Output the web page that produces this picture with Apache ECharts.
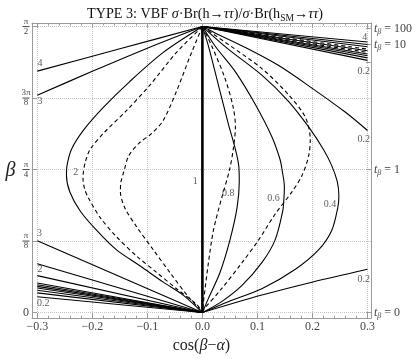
<!DOCTYPE html>
<html>
<head>
<meta charset="utf-8">
<script src="https://cdn.jsdelivr.net/npm/echarts@6/dist/echarts.min.js"></script>
<style>
html, body { margin: 0; padding: 0; background: #fff; }
#chart { width: 415px; height: 359px; }
</style>
</head>
<body>
<div id="chart"></div>
<script>
// x = cos(beta - alpha), y = beta (radians)
const xTicks = [-0.3, -0.2, -0.1, 0, 0.1, 0.2, 0.3]
const betaTicks = [0, Math.PI / 8, Math.PI / 4, 3 * Math.PI / 8, Math.PI / 2]
const betaTickLabels = ['0', 'π/8', 'π/4', '3π/8', 'π/2']
const tanBetaTicks = [0, 1, 5, 10, 100]
const tanBetaLabels = ['0', '1', '', '10', '100']

// contours, [cos(beta-alpha), beta]
const line1 = [[0, 0], [0, 1.571]]
const upperLeft4 = [[-0.3, 1.326], [-0.15, 1.449], [0, 1.571]]
const upperLeft3 = [[-0.3, 1.194], [-0.2, 1.325], [-0.1, 1.452], [0, 1.571]]
const curve2 = [[0, 1.571], [-0.071, 1.429], [-0.132, 1.269], [-0.180, 1.127], [-0.216, 1.002], [-0.238, 0.896],
  [-0.246, 0.807], [-0.247, 0.753], [-0.241, 0.664], [-0.222, 0.558], [-0.192, 0.451], [-0.156, 0.344],
  [-0.113, 0.256], [-0.071, 0.167], [-0.035, 0.096], [0, 0]]
const dashOuterLeft = [[0, 1.571], [-0.047, 1.429], [-0.095, 1.251], [-0.138, 1.109], [-0.180, 0.984], [-0.204, 0.896],
  [-0.213, 0.824], [-0.217, 0.740], [-0.214, 0.680], [-0.207, 0.629], [-0.186, 0.523], [-0.156, 0.416],
  [-0.119, 0.309], [-0.083, 0.220], [-0.047, 0.131], [-0.010, 0.043], [0, 0]]
const dashInnerLeft = [[0, 1.571], [-0.022, 1.411], [-0.047, 1.216], [-0.071, 1.056], [-0.092, 0.984], [-0.115, 0.931],
  [-0.134, 0.860], [-0.143, 0.771], [-0.148, 0.718], [-0.149, 0.664], [-0.141, 0.576], [-0.119, 0.469],
  [-0.089, 0.344], [-0.059, 0.220], [-0.028, 0.096], [-0.007, 0.025], [0, 0]]
const lowerLeftStarts = [0.395, 0.268, 0.203, 0.162, 0.153, 0.144, 0.135, 0.123, 0.108, 0.087]

const curve08 = [[0, 1.571], [0.011, 1.464], [0.029, 1.251], [0.047, 1.038], [0.060, 0.896], [0.066, 0.807],
  [0.067, 0.718], [0.063, 0.576], [0.050, 0.398], [0.032, 0.220], [0.011, 0.078], [0, 0]]
const dashInnerRight = [[0, 1.571], [0.017, 1.464], [0.041, 1.287], [0.056, 1.127], [0.060, 1.020], [0.056, 0.896],
  [0.049, 0.780], [0.035, 0.629], [0.020, 0.451], [0.011, 0.274], [0.002, 0.060], [0, 0]]
const curve06 = [[0, 1.571], [0.023, 1.464], [0.060, 1.322], [0.096, 1.144], [0.126, 0.967], [0.141, 0.842],
  [0.145, 0.780], [0.149, 0.690], [0.148, 0.620], [0.146, 0.558], [0.132, 0.398], [0.108, 0.274],
  [0.072, 0.149], [0.035, 0.060], [0, 0]]
const dashOuterRight = [[0, 1.571], [0.047, 1.473], [0.108, 1.340], [0.156, 1.198], [0.187, 1.073], [0.196, 0.949],
  [0.193, 0.860], [0.181, 0.753], [0.163, 0.664], [0.132, 0.540], [0.102, 0.398], [0.072, 0.274],
  [0.035, 0.131], [0.002, 0.016], [0, 0]]
const curve04 = [[0, 1.571], [0.047, 1.447], [0.108, 1.304], [0.156, 1.162], [0.193, 1.020], [0.220, 0.896],
  [0.235, 0.807], [0.245, 0.720], [0.248, 0.640], [0.246, 0.576], [0.235, 0.451], [0.211, 0.344],
  [0.169, 0.238], [0.108, 0.131], [0.047, 0.060], [0, 0]]
const upperRight02 = [[0, 1.571], [0.023, 1.536], [0.078, 1.456], [0.138, 1.358], [0.199, 1.233], [0.260, 1.100], [0.3, 1.0]]
const lowerRight02 = [[0, 0], [0.108, 0.096], [0.199, 0.167], [0.3, 0.238]]
const topRightEnds = [1.486, 1.472, 1.460, 1.447, 1.438, 1.429, 1.420, 1.411, 1.399, 1.385]
const topRightDashed = [false, false, false, true, false, true, false, false, false, false]

const contourLabels = [
  [-0.295, 1.367, '4'], [-0.295, 1.162, '3'], [-0.230, 0.771, '2'], [-0.013, 0.718, '1'],
  [0.047, 0.656, '0.8'], [0.129, 0.629, '0.6'], [0.232, 0.597, '0.4'], [0.293, 0.184, '0.2'],
  [0.293, 0.949, '0.2'], [0.293, 1.326, '0.2'], [0.295, 1.509, '4'],
  [-0.296, 0.434, '3'], [-0.295, 0.238, '2'], [-0.289, 0.051, '0.2']
]

const X_MIN = -0.3096, X_MAX = 0.3062
const Y_MIN = -0.0304, Y_MAX = 1.5905

const serif = "'Liberation Serif', 'Times New Roman', serif"
const frameColor = '#9a9a9a'
const textColor = '#444'

const minorX = []
for (let i = -15; i <= 15; i++) minorX.push(i / 50)

function contour (data, dashed, width) {
  return {
    type: 'line',
    data: data,
    showSymbol: false,
    smooth: 0.3,
    silent: true,
    lineStyle: { color: '#000', width: width || 1.1, type: dashed ? [4, 3] : 'solid' }
  }
}

const series = [
  contour(line1, false, 2.6),
  contour(upperLeft4), contour(upperLeft3), contour(curve2),
  contour(dashOuterLeft, true), contour(dashInnerLeft, true),
  contour(curve08), contour(dashInnerRight, true), contour(curve06),
  contour(dashOuterRight, true), contour(curve04),
  contour(upperRight02), contour(lowerRight02)
]
lowerLeftStarts.forEach(b => series.push(contour([[-0.3, b], [0, 0]])))
topRightEnds.forEach((b, i) => series.push(contour([[0, 1.571], [0.3, b]], topRightDashed[i])))
series.push({
  type: 'scatter',
  data: contourLabels,
  symbolSize: 1,
  itemStyle: { color: 'rgba(0,0,0,0)' },
  silent: true,
  label: {
    show: true,
    position: 'inside',
    formatter: p => p.data[2],
    fontFamily: serif,
    fontSize: 10,
    color: '#333'
  }
})

function findIndex (arr, v) {
  for (let i = 0; i < arr.length; i++) if (Math.abs(arr[i] - v) < 1e-6) return i
  return -1
}

function betaLabel (v) {
  const s = betaTickLabels[findIndex(betaTicks, v)]
  if (!s) return ''
  if (s === '0') return '{z|0}'
  const parts = s.split('/')
  return '{n|' + parts[0] + '}\n{b| }\n{d|' + parts[1] + '}'
}

const tanBetaPos = tanBetaTicks.map(t => Math.atan(t))

function tanBetaLabel (v) {
  const s = tanBetaLabels[findIndex(tanBetaPos, v)]
  if (!s) return ''
  return '{t|t}{s|β}{r| = ' + s + '}'
}

const chart = echarts.init(document.getElementById('chart'))
chart.setOption({
  animation: false,
  backgroundColor: '#fff',
  title: {
    text: '{r|TYPE 3: VBF }{i|σ}{r|·Br(h→}{i|ττ}{r|)/}{i|σ}{r|·Br(h}{s|SM}{r|→}{i|ττ}{r|)}',
    left: 82,
    top: 0,
    textStyle: {
      fontWeight: 'normal',
      rich: {
        r: { fontFamily: serif, fontSize: 14.2, fontWeight: 'normal', color: '#111', lineHeight: 18 },
        i: { fontFamily: serif, fontSize: 14.2, fontWeight: 'normal', fontStyle: 'italic', color: '#111', lineHeight: 18 },
        s: { fontFamily: serif, fontSize: 9.5, fontWeight: 'normal', color: '#111', verticalAlign: 'bottom' }
      }
    }
  },
  grid: { left: 32, right: 44, top: 23, bottom: 32 },
  xAxis: [
    {
      type: 'value', min: X_MIN, max: X_MAX, position: 'bottom',
      axisLine: { show: true, onZero: false, lineStyle: { color: frameColor } },
      axisTick: { show: true, inside: true, length: 5, customValues: xTicks, lineStyle: { color: frameColor } },
      axisLabel: {
        customValues: xTicks, margin: 3, color: textColor, fontFamily: serif, fontSize: 12,
        formatter: v => (v < -1e-9 ? '−' : '') + Math.abs(v).toFixed(1)
      },
      splitLine: { show: true, lineStyle: { color: '#c4c4c4', type: 'dotted' } },
      name: '{r|cos(}{i|β}{r|−}{i|α}{r|)}',
      nameLocation: 'middle',
      nameGap: 12,
      nameTextStyle: {
        rich: {
          r: { fontFamily: serif, fontSize: 16, color: '#222' },
          i: { fontFamily: serif, fontSize: 16, fontStyle: 'italic', color: '#222' }
        }
      }
    },
    {
      type: 'value', min: X_MIN, max: X_MAX, position: 'bottom',
      axisLine: { show: false, onZero: false },
      axisTick: { show: true, inside: true, length: 2.5, customValues: minorX, lineStyle: { color: frameColor } },
      axisLabel: { show: false },
      splitLine: { show: false }
    },
    {
      type: 'value', min: X_MIN, max: X_MAX, position: 'top',
      axisLine: { show: true, onZero: false, lineStyle: { color: frameColor } },
      axisTick: { show: true, inside: true, length: 5, customValues: xTicks, lineStyle: { color: frameColor } },
      axisLabel: { show: false },
      splitLine: { show: false }
    },
    {
      type: 'value', min: X_MIN, max: X_MAX, position: 'top',
      axisLine: { show: false, onZero: false },
      axisTick: { show: true, inside: true, length: 2.5, customValues: minorX, lineStyle: { color: frameColor } },
      axisLabel: { show: false },
      splitLine: { show: false }
    }
  ],
  yAxis: [
    {
      type: 'value', min: Y_MIN, max: Y_MAX, position: 'left',
      axisLine: { show: true, onZero: false, lineStyle: { color: frameColor } },
      axisTick: { show: true, inside: true, length: 5, customValues: betaTicks, lineStyle: { color: frameColor } },
      axisLabel: {
        customValues: betaTicks, margin: 6, align: 'center', formatter: betaLabel,
        rich: {
          z: { fontFamily: serif, fontSize: 12, color: textColor },
          n: { fontFamily: serif, fontSize: 9, color: textColor, lineHeight: 8, align: 'center' },
          d: { fontFamily: serif, fontSize: 9, color: textColor, lineHeight: 8, align: 'center' },
          b: { width: 7, height: 1, lineHeight: 2, backgroundColor: textColor, align: 'center' }
        }
      },
      splitLine: { show: true, lineStyle: { color: '#c4c4c4', type: 'dotted' } },
      name: 'β',
      nameLocation: 'middle',
      nameRotate: 0,
      nameGap: 10,
      nameTextStyle: { fontFamily: serif, fontSize: 20, fontStyle: 'italic', color: '#222' }
    },
    {
      type: 'value', min: Y_MIN, max: Y_MAX, position: 'right',
      axisLine: { show: true, onZero: false, lineStyle: { color: frameColor } },
      axisTick: { show: true, inside: true, length: 5, customValues: tanBetaPos, lineStyle: { color: frameColor } },
      axisLabel: {
        customValues: tanBetaPos, margin: 3, formatter: tanBetaLabel,
        rich: {
          t: { fontFamily: serif, fontSize: 12, fontStyle: 'italic', color: textColor, lineHeight: 14 },
          s: { fontFamily: serif, fontSize: 8, fontStyle: 'italic', color: textColor, verticalAlign: 'bottom' },
          r: { fontFamily: serif, fontSize: 12, color: textColor, lineHeight: 14 }
        }
      },
      splitLine: { show: false }
    }
  ],
  series: series
})
</script>
</body>
</html>
